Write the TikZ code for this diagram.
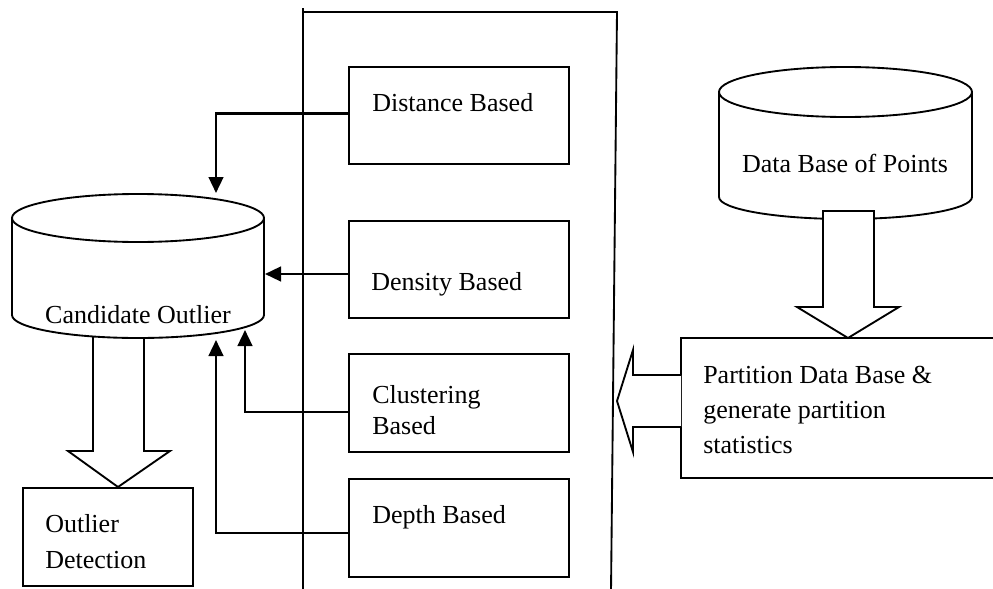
\documentclass[tikz,border=0pt]{standalone}
\usepackage{fontspec}
\setmainfont{Liberation Serif}
\usetikzlibrary{arrows.meta}
\newdimen\px \px=0.75pt
\tikzset{
  outline/.style={line width=1.4pt},
  boxnode/.style={draw, line width=1.4pt, rectangle, inner sep=0pt, minimum width=220\px},
  txt/.style={inner sep=0pt, anchor=base west, font=\fontsize{19.5pt}{24pt}\selectfont},
  conn/.style={line width=1.8pt, -{Triangle[length=12pt,width=11pt]}},
  blockarrow/.style={line width=1.4pt, fill=white, draw, line join=miter}
}
\begin{document}
\begin{tikzpicture}[x=0.75pt, y=-0.75pt]
\useasboundingbox (0,0) rectangle (993,589);
% container
\draw[outline] (303,8) -- (303,592);
\draw[outline] (303,12) -- (617,12) -- (611,592);
% method boxes
\node[boxnode, minimum height=97\px] (dist) at (459,115.5) {};
\node[boxnode, minimum height=97\px] (dens) at (459,269.5) {};
\node[boxnode, minimum height=98\px] (clus) at (459,403) {};
\node[boxnode, minimum height=98\px] (depth) at (459,528) {};
\node[txt] (tdist) at (372,111) {Distance Based};
\node[txt] (tdens) at (371,290) {Density Based};
\node[txt] (tclus1) at (372,403) {Clustering};
\node[txt] (tclus2) at (372,434) {Based};
\node[txt] (tdepth) at (372,523) {Depth Based};
% candidate outlier cylinder
\path[blockarrow] (93,337) -- (93,451) -- (68,451) -- (118,487) -- (170,451) -- (144,451) -- (144,337);
\draw[outline, fill=white] (12,218) -- (12,315) arc[start angle=180,end angle=360,x radius=126\px,y radius=23\px] -- (264,218);
\draw[outline] (138,218) ellipse[x radius=126\px, y radius=24\px];
\node[inner sep=0pt, minimum width=252\px, minimum height=97\px] (cand) at (138,266.5) {};
\node[txt, anchor=base] (tcand) at (138,323) {Candidate Outlier};
\coordinate (candTop) at (216,193);
\coordinate (candRight) at (265,274);
\coordinate (candC) at (245,330);
\coordinate (candD) at (216,340);
% connectors
\draw[conn] ([yshift=2\px]dist.west) -| (candTop);
\draw[conn] (dens.west |- candRight) -- (candRight);
\draw[conn] ([yshift=-9\px]clus.west) -| (candC);
\draw[conn] ([yshift=-5\px]depth.west) -| (candD);
% outlier detection
\node[boxnode, minimum width=170\px, minimum height=98\px] (outl) at (108,537) {};
\node[txt] (toutl1) at (45,532) {Outlier};
\node[txt] (toutl2) at (45,568) {Detection};
% data base of points cylinder
\draw[outline, fill=white] (719,92) -- (719,197) arc[start angle=180,end angle=360,x radius=126.5\px,y radius=22\px] -- (972,92);
\draw[outline] (845.5,92) ellipse[x radius=126.5\px, y radius=25\px];
\node[inner sep=0pt, minimum width=253\px, minimum height=105\px] (db) at (845.5,144.5) {};
\node[txt, anchor=base] (tdb) at (845,172) {Data Base of Points};
\path[blockarrow] (823,211) -- (874,211) -- (874,307) -- (899,307) -- (848,338) -- (797,307) -- (823,307) -- cycle;
% partition box
\node[boxnode, minimum width=319\px, minimum height=140\px] (part) at (840.5,408) {};
\node[txt] (tpart1) at (703,383) {Partition Data Base \&};
\node[txt] (tpart2) at (703,418) {generate partition};
\node[txt] (tpart3) at (703,453) {statistics};
\path[blockarrow] (681,375) -- (633,375) -- (633,350) -- (617,401) -- (633,452) -- (633,427) -- (681,427);
\end{tikzpicture}
\end{document}
